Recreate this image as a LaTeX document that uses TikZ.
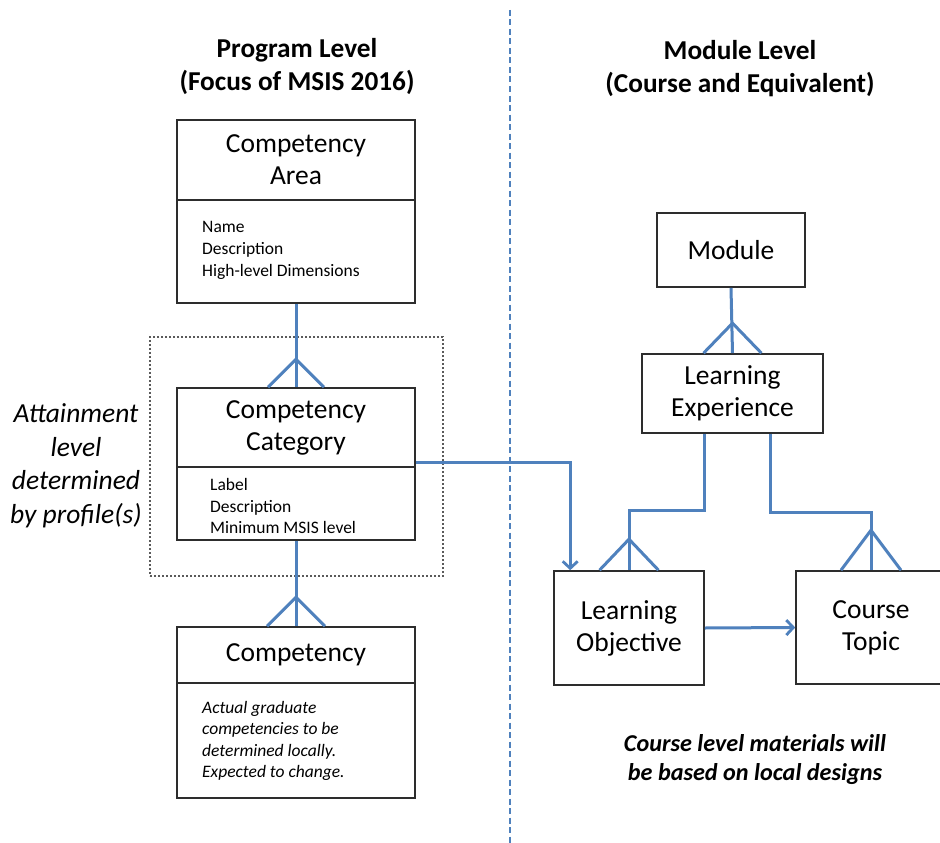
\documentclass[tikz,border=0pt]{standalone}
\usepackage{fontspec}
\setmainfont{Carlito}
\usetikzlibrary{arrows.meta,calc}
\definecolor{lineblue}{RGB}{79,129,189}
\definecolor{boxline}{RGB}{45,45,45}
\definecolor{dashgray}{RGB}{90,90,90}
\begin{document}
\begin{tikzpicture}[x=1pt,y=-1pt,
  box/.style={draw=boxline, line width=1.6pt, inner sep=0pt, fill=white},
  boxtext/.style={font=\fontsize{27.5}{32}\selectfont, align=center},
  listtext/.style={font=\fontsize{17.5}{21.8}\selectfont, align=left, anchor=north west, inner sep=0pt},
  titletext/.style={font=\fontsize{27.3}{33}\selectfont\bfseries, align=center, inner sep=0pt},
  link/.style={draw=lineblue, line width=3pt},
  arrowlink/.style={link, -{Straight Barb[length=7pt,width=15pt,line width=2.8pt]}},
  frame/.style={draw=dashgray, line width=1.2pt, dash pattern=on 2.4pt off 1.6pt}
]
\useasboundingbox (0,0) rectangle (940,843);
\fill[white] (0,0) rectangle (940,843);

% divider line
\coordinate (divtop) at (510,10);
\coordinate (divbot) at (510,843);
\draw[lineblue, line width=2.2pt, dash pattern=on 6pt off 3.5pt] (divtop) -- (divbot);

% titles
\node[titletext] (t1) at (297,66) {Program Level\\(Focus of MSIS 2016)};
\node[titletext] (t2) at (740,69) {Module Level\\(Course and Equivalent)};

% dashed frame
\node[frame, minimum width=293pt, minimum height=239pt, inner sep=0pt] (frm) at (296.5,456.5) {};

% Competency Area
\node[box, minimum width=238pt, minimum height=80pt] (areaH) at (296,160) {};
\node[boxtext] (areaT) at (areaH.center) {Competency\\Area};
\node[box, minimum width=238pt, minimum height=103pt] (areaB) at (296,251.5) {};
\node[listtext] (areaL) at (202,221) {Name\\Description\\High-level Dimensions};

% Competency Category
\node[box, minimum width=238pt, minimum height=79pt] (catH) at (296,427.5) {};
\node[boxtext] (catT) at (catH.center) {Competency\\Category};
\node[box, minimum width=238pt, minimum height=73pt] (catB) at (296,503.5) {};
\node[listtext] (catL) at (210,478) {Label\\Description\\Minimum MSIS level};

% Competency
\node[box, minimum width=238pt, minimum height=56pt] (compH) at (296,655) {};
\node[boxtext] (compT) at (compH.center) {Competency};
\node[box, minimum width=238pt, minimum height=115pt] (compB) at (296,740.5) {};
\node[listtext, font=\fontsize{17.5}{21.5}\selectfont\itshape] (compL) at (202,701) {Actual graduate\\competencies to be\\determined locally.\\Expected to change.};

% right side boxes
\node[box, minimum width=148pt, minimum height=74pt, boxtext] (mod) at (731,250) {Module};
\node[box, minimum width=181pt, minimum height=79pt, boxtext] (le) at (732.5,393.5) {Learning\\Experience};
\node[box, minimum width=150pt, minimum height=114pt, boxtext] (lo) at (629,628) {Learning\\Objective};
\node[box, minimum width=150pt, minimum height=113pt] (ct) at (871,627.5) {};
\node[boxtext] (ctT) at (ct.center) {Course\\Topic};

% side note
\node[font=\fontsize{27.5}{33.5}\selectfont\itshape, align=center, inner sep=0pt] (att) at (76,466) {Attainment\\level\\determined\\by profile(s)};

% bottom note
\node[font=\fontsize{24.2}{29}\selectfont\bfseries\itshape, align=center, inner sep=0pt] (bot) at (755,760) {Course level materials will\\be based on local designs};

% connectors with crow's feet
\draw[link] (areaB.south) -- (catH.north);
\draw[link] ($(catH.north)+(-28,0)$) -- ($(catH.north)+(0,-28)$) -- ($(catH.north)+(28,0)$);

\draw[link] (catB.south) -- (compH.north);
\draw[link] ($(compH.north)+(-29,0)$) -- ($(compH.north)+(0,-29)$) -- ($(compH.north)+(29,0)$);

\draw[link] (mod.south) -- (le.north);
\draw[link] ($(le.north)+(-29,0)$) -- ($(le.north)+(0,-30)$) -- ($(le.north)+(29,0)$);

\draw[link] ($(le.south)+(-28.5,0)$) -- ++(0,77) -| (lo.north);
\draw[link] ($(lo.north)+(-29.5,0)$) -- ($(lo.north)+(0,-31)$) -- ($(lo.north)+(29.5,0)$);

\draw[link] ($(le.south)+(37.5,0)$) -- ++(0,79) -| (ct.north);
\draw[link] ($(ct.north)+(-30,0)$) -- ($(ct.north)+(0,-40)$) -- ($(ct.north)+(30,0)$);

\draw[arrowlink] ($(catH.south east)+(0,-5)$) -| ($(lo.north west)+(17,0)$);
\draw[arrowlink] (lo.east) -- (ct.west);
\end{tikzpicture}
\end{document}
